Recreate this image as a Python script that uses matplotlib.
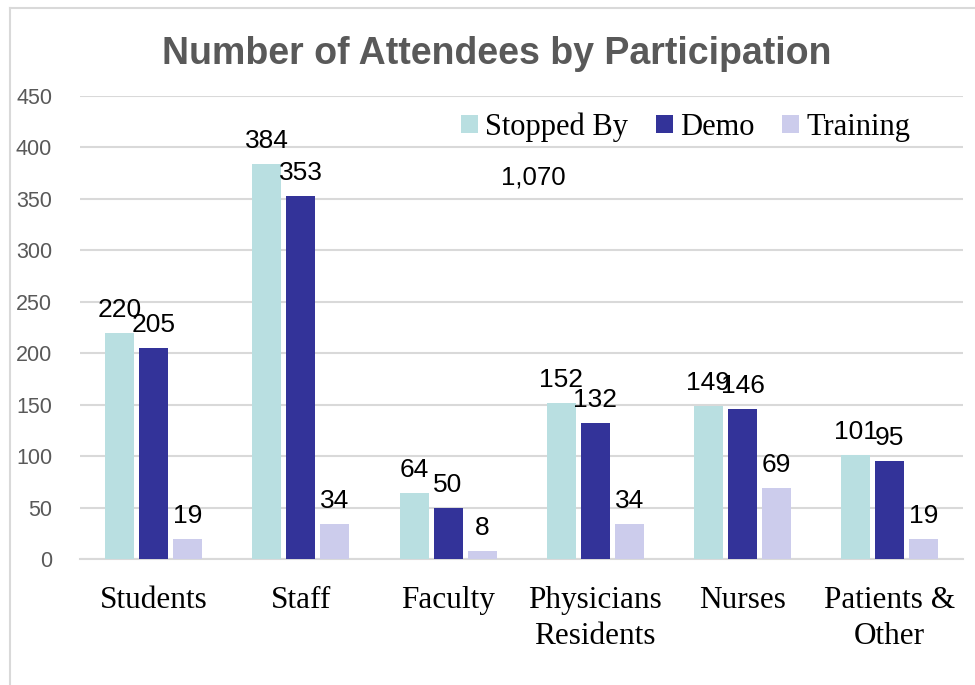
import numpy as np
import matplotlib
matplotlib.use('Agg')
import matplotlib.pyplot as plt
from matplotlib.lines import Line2D

# data
categories = ['Students', 'Staff', 'Faculty', 'Physicians\nResidents', 'Nurses', 'Patients &\nOther']
series = ['Stopped By', 'Demo', 'Training']
stopped = [220, 384, 64, 152, 149, 101]
demo = [205, 353, 50, 132, 146, 95]
training = [19, 34, 8, 34, 69, 19]
colors = ['#b9dfe1', '#333399', '#ccccec']

plt.rcParams['font.family'] = 'Liberation Sans'

fig = plt.figure(figsize=(9.75, 6.85), dpi=100)
ax = fig.add_axes([0.082, 0.184, 0.906, 0.676])

x = np.arange(len(categories))
w = 0.197
step = 0.231
for i, (vals, name) in enumerate(zip([stopped, demo, training], series)):
    bars = ax.bar(x + (i - 1) * step, vals, w, color=colors[i], label=name, zorder=3)
    for b, v in zip(bars, vals):
        ax.annotate(str(v), (b.get_x() + b.get_width() / 2, v), xytext=(0, 11.5),
                    textcoords='offset points', ha='center', va='baseline',
                    fontsize=19, color='black', zorder=4)

ax.set_xlim(-0.5, 5.5)
ax.set_ylim(0, 450)
ax.set_yticks(range(0, 451, 50))
ax.grid(axis='y', color='#d9d9d9', linewidth=1.5, zorder=0)
for s in ['top', 'right', 'left']:
    ax.spines[s].set_visible(False)
ax.spines['bottom'].set_color('#d9d9d9')
ax.spines['bottom'].set_linewidth(1.5)
ax.tick_params(axis='both', length=0)
ax.tick_params(axis='y', labelsize=15.5, labelcolor='#595959', pad=20)
ax.set_xticks(x)
ax.set_xticklabels(categories, fontfamily='Liberation Serif', fontsize=22.5, linespacing=1.33)
ax.tick_params(axis='x', pad=19.5)

# total of stopped by
ax.text(0.513, 0.823, f'{sum(stopped):,}', transform=ax.transAxes, ha='center', va='center',
        fontsize=18.5, color='black')

ax.legend(loc='center', bbox_to_anchor=(0.686, 0.933), ncol=3, frameon=False,
          prop={'family': 'Liberation Serif', 'size': 22}, handlelength=0.55, handleheight=0.55,
          handletextpad=0.25, columnspacing=0.9, borderpad=0)

fig.suptitle('Number of Attendees by Participation', x=0.51, y=0.947, fontsize=27,
             fontweight='bold', color='#595959')

# chart border
fig.add_artist(Line2D([10 / 975, 10 / 975], [0, 1 - 8 / 685], color='#d9d9d9', linewidth=1.5))
fig.add_artist(Line2D([10 / 975, 1], [1 - 8 / 685, 1 - 8 / 685], color='#d9d9d9', linewidth=1.5))

fig.savefig('out.png', dpi=100)
